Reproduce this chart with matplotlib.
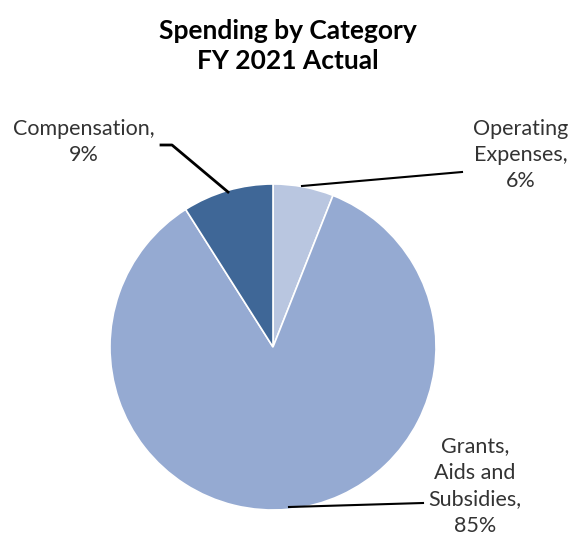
"""
Spending by category pie chart, FY 2021 actual.
"""

###########
# Imports #
###########

import matplotlib.pyplot as plt

########
# Data #
########

categories = ["Operating\nExpenses,", "Grants,\nAids and\nSubsidies,", "Compensation,"]
shares = [6, 85, 9]
colors = ["#B9C6E0", "#95AAD2", "#3F6797"]

title = "Spending by Category\nFY 2021 Actual"

#########
# Chart #
#########

W, H = 573, 539
CX, CY, R = 273, 347, 163


def px(x, y):
    # pixel (from top-left) to data coordinates
    return (x - CX) / R, (CY - y) / R


fig = plt.figure(figsize=(W / 100, H / 100), dpi=100)
ax = fig.add_axes([0, 0, 1, 1])

ax.pie(shares, colors=colors, startangle=90, counterclock=False,
       radius=1, center=(0, 0), frame=True,
       wedgeprops=dict(edgecolor="white", linewidth=1.2))
ax.set_xlim(px(0, 0)[0], px(W, 0)[0])
ax.set_ylim(px(0, H)[1], px(0, 0)[1])
ax.axis("off")

# Title
tx, ty = px(W / 2 + 1, 46)
ax.text(tx, ty, title, ha="center", va="center", fontsize=19,
        fontweight="bold", family="Lato", linespacing=1.3)

# Labels with leader lines
label_font = dict(fontsize=15.5, family="Lato", color="#333333",
                  ha="center", va="center", linespacing=1.4)

x, y = px(521, 155)
ax.text(x, y, f"{categories[0]}\n{shares[0]}%", **label_font)
ax.plot(*zip(px(302, 186), px(462, 172)), color="black", lw=1.5)

x, y = px(475, 486)
ax.text(x, y, f"{categories[1]}\n{shares[1]}%", **label_font)
ax.plot(*zip(px(289, 507), px(423, 503)), color="black", lw=1.5)

x, y = px(84, 142)
ax.text(x, y, f"{categories[2]}\n{shares[2]}%", **label_font)
ax.plot(*zip(px(161, 145), px(172, 145), px(228, 192)), color="black", lw=2)

fig.savefig("out.png", dpi=100)
